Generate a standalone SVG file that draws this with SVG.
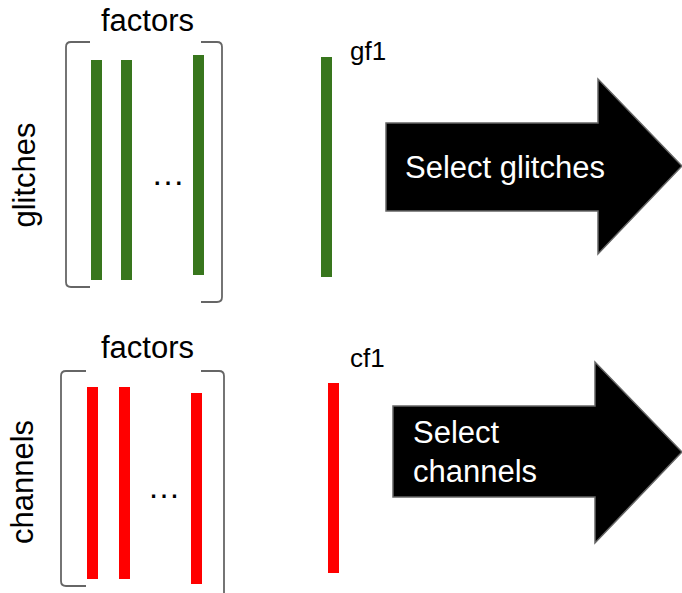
<svg xmlns="http://www.w3.org/2000/svg" width="682" height="593" viewBox="0 0 682 593">
<style>
.lbl{font-family:"Liberation Sans",Arial,sans-serif;font-size:31px;fill:#000}
.sm{font-family:"Liberation Sans",Arial,sans-serif;font-size:26px;fill:#000}
.wt{font-family:"Liberation Sans",Arial,sans-serif;font-size:31px;fill:#fff}
.br{fill:none;stroke:#666;stroke-width:1.8}
.g{fill:#38761d}
.r{fill:#ff0000}
.arr{fill:#000;stroke:#666;stroke-width:1.5}
</style>
<rect width="682" height="593" fill="#fff"/>
<g id="glitch-matrix">
<text class="lbl" x="147.5" y="31" text-anchor="middle">factors</text>
<text class="lbl" transform="translate(35,175) rotate(-90)" text-anchor="middle">glitches</text>
<path class="br" d="M90,42 H71 Q66,42 66,47 V282 Q66,287 71,287 H90"/>
<path class="br" d="M201,42 H217 Q222,42 222,47 V297 Q222,302 217,302 H201"/>
<rect class="g" x="91" y="60" width="11" height="220"/>
<rect class="g" x="121" y="60" width="11" height="220"/>
<rect class="g" x="193" y="55" width="11" height="220"/>
<text class="lbl" x="168" y="185" text-anchor="middle" style="font-size:34px">…</text>
</g>
<g id="gf1">
<rect class="g" x="321" y="57" width="11" height="220"/>
<text class="sm" x="350" y="60">gf1</text>
</g>
<g id="select-glitches">
<polygon class="arr" points="386,123 598,123 598,79 682,166 598,254 598,211 386,211"/>
<text class="wt" x="405" y="178">Select glitches</text>
</g>
<g id="channel-matrix">
<text class="lbl" x="147.5" y="358" text-anchor="middle">factors</text>
<text class="lbl" transform="translate(33,482) rotate(-90)" text-anchor="middle">channels</text>
<path class="br" d="M86,371 H66 Q61,371 61,376 V581 Q61,586 66,586 H86"/>
<path class="br" d="M201,371 H219 Q224,371 224,376 V600"/>
<rect class="r" x="87" y="387" width="11" height="192"/>
<rect class="r" x="119" y="387" width="11" height="192"/>
<rect class="r" x="191" y="393" width="11" height="191"/>
<text class="lbl" x="164" y="498" text-anchor="middle" style="font-size:33px">…</text>
</g>
<g id="cf1">
<rect class="r" x="328" y="383" width="11" height="190"/>
<text class="sm" x="350" y="367">cf1</text>
</g>
<g id="select-channels">
<polygon class="arr" points="393,406 595,406 595,362 682,452 595,543 595,497 393,497"/>
<text class="wt" x="413" y="443">Select</text>
<text class="wt" x="413" y="482">channels</text>
</g>
<g id="connectors"/>
</svg>
